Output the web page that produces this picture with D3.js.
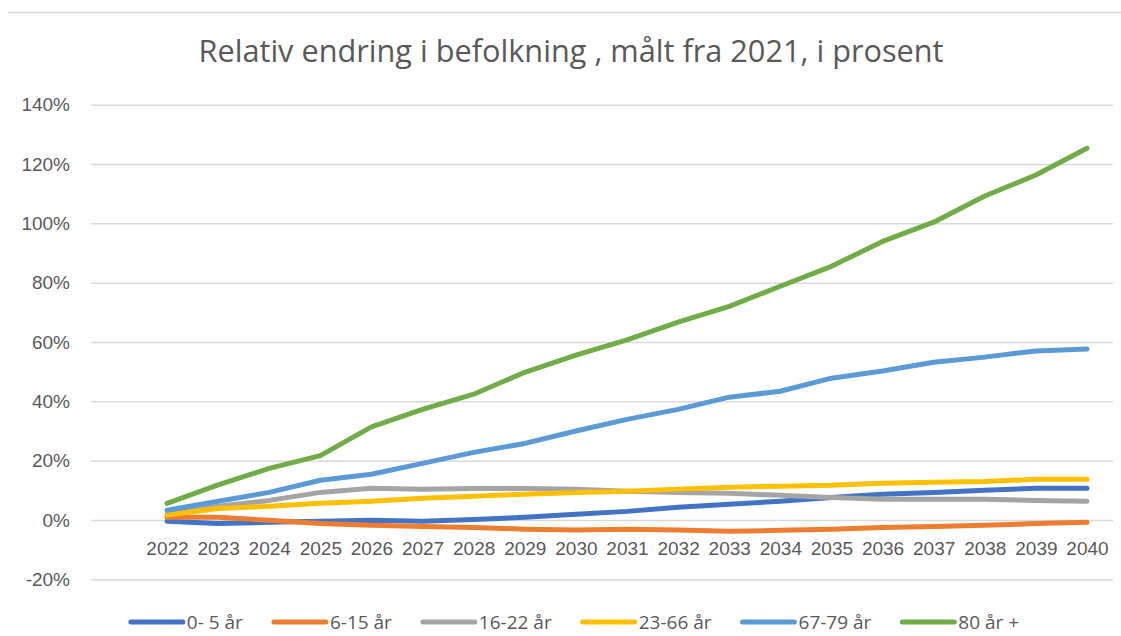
<!DOCTYPE html>
<html>
<head>
<meta charset="utf-8">
<script src="https://cdn.jsdelivr.net/npm/d3@7"></script>
<style>
  html, body { margin: 0; padding: 0; background: #fff; }
  svg { display: block; font-family: "Open Sans", "DejaVu Sans", sans-serif; }
</style>
</head>
<body>
<div id="chart"></div>
<script>
// years on the category axis
const years = ['2022', '2023', '2024', '2025', '2026', '2027', '2028', '2029', '2030', '2031',
               '2032', '2033', '2034', '2035', '2036', '2037', '2038', '2039', '2040']

// relative change since 2021 (fraction)
const age0to5 = [-0.004, -0.012, -0.008, -0.004, -0.001, -0.004, 0.002, 0.009, 0.019, 0.029,
                 0.043, 0.053, 0.063, 0.076, 0.087, 0.093, 0.100, 0.107, 0.107]
const age6to15 = [0.009, 0.009, -0.001, -0.012, -0.018, -0.022, -0.025, -0.031, -0.034, -0.031,
                  -0.034, -0.038, -0.035, -0.031, -0.025, -0.022, -0.018, -0.012, -0.008]
const age16to22 = [0.019, 0.046, 0.066, 0.093, 0.107, 0.104, 0.106, 0.106, 0.104, 0.097,
                   0.093, 0.090, 0.083, 0.076, 0.070, 0.070, 0.070, 0.066, 0.063]
const age23to66 = [0.017, 0.039, 0.046, 0.056, 0.063, 0.073, 0.080, 0.087, 0.093, 0.097,
                   0.104, 0.110, 0.114, 0.117, 0.124, 0.127, 0.130, 0.137, 0.137]
const age67to79 = [0.033, 0.063, 0.093, 0.134, 0.154, 0.191, 0.228, 0.258, 0.300, 0.339,
                   0.373, 0.414, 0.434, 0.478, 0.502, 0.532, 0.549, 0.570, 0.576]
const age80plus = [0.056, 0.118, 0.174, 0.217, 0.314, 0.373, 0.424, 0.498, 0.556, 0.607,
                   0.667, 0.720, 0.788, 0.855, 0.939, 1.004, 1.092, 1.163, 1.253]

const seriesNames = ['0- 5 år', '6-15 år', '16-22 år', '23-66 år', '67-79 år', '80 år +']
const seriesValues = [age0to5, age6to15, age16to22, age23to66, age67to79, age80plus]
const seriesColors = ['#4472C4', '#ED7D31', '#A5A5A5', '#FFC000', '#5B9BD5', '#70AD47']

const yTicks = [-0.2, 0, 0.2, 0.4, 0.6, 0.8, 1.0, 1.2, 1.4]
const title = 'Relativ endring i befolkning , målt fra 2021, i prosent'

const width = 1121, height = 636
const plotLeft = 91, plotRight = 1113
const textColor = '#595959', gridColor = '#d9d9d9'

const svg = d3.select('#chart')
  .append('svg')
    .attr('width', width)
    .attr('height', height)

// thin border line at the top
svg.append('line')
  .attr('x1', 8).attr('x2', width)
  .attr('y1', 12.5).attr('y2', 12.5)
  .attr('stroke', gridColor)
  .attr('stroke-width', 1.5)

svg.append('text')
  .attr('x', 571)
  .attr('y', 62)
  .attr('text-anchor', 'middle')
  .attr('fill', textColor)
  .attr('font-size', 30.7)
  .text(title)

const x = d3.scalePoint()
  .domain(years)
  .range([167, 1087])

const y = d3.scaleLinear()
  .domain([-0.2, 1.4])
  .range([579.3, 104.7])

// y axis with gridlines
const yAxis = svg.append('g')
  .attr('transform', `translate(${plotLeft},0)`)
  .call(d3.axisLeft(y)
    .tickValues(yTicks)
    .tickSize(-(plotRight - plotLeft))
    .tickPadding(21)
    .tickFormat(d => Math.round(d * 100) + '%'))

yAxis.select('.domain').remove()
yAxis.selectAll('.tick line')
  .attr('stroke', gridColor)
  .attr('stroke-width', 1.5)
yAxis.selectAll('.tick text')
  .attr('fill', textColor)
  .attr('font-size', 19)
  .attr('font-family', null)

// x axis labels sit under the 0 line
const xAxis = svg.append('g')
  .attr('transform', `translate(0,${y(0)})`)
  .call(d3.axisBottom(x).tickSize(0).tickPadding(21.5))

xAxis.select('.domain').remove()
xAxis.selectAll('.tick text')
  .attr('fill', textColor)
  .attr('font-size', 19)
  .attr('font-family', null)

const line = d3.line()
  .x((d, i) => x(years[i]))
  .y(d => y(d))

svg.append('g')
  .selectAll('path')
  .data(seriesValues)
  .join('path')
    .attr('d', line)
    .attr('fill', 'none')
    .attr('stroke', (d, i) => seriesColors[i])
    .attr('stroke-width', 5)
    .attr('stroke-linecap', 'round')
    .attr('stroke-linejoin', 'round')

// legend (kept a little higher so the text is not clipped)
const legend = svg.append('g')
  .attr('transform', 'translate(0,622)')

const items = legend.selectAll('g')
  .data(seriesNames)
  .join('g')

items.append('line')
  .attr('x1', 0).attr('x2', 52)
  .attr('stroke', (d, i) => seriesColors[i])
  .attr('stroke-width', 5)
  .attr('stroke-linecap', 'round')

items.append('text')
  .attr('x', 56)
  .attr('dy', '0.36em')
  .attr('fill', textColor)
  .attr('font-size', 19)
  .text(d => d)

let cursor = 0
const offsets = []
items.each(function () {
  const w = d3.select(this).select('text').node().getComputedTextLength()
  offsets.push(cursor)
  cursor += 56 + w + 31
})
const legendWidth = cursor - 31
const legendStart = 575 - legendWidth / 2
items.attr('transform', (d, i) => `translate(${legendStart + offsets[i]},0)`)
</script>
</body>
</html>
